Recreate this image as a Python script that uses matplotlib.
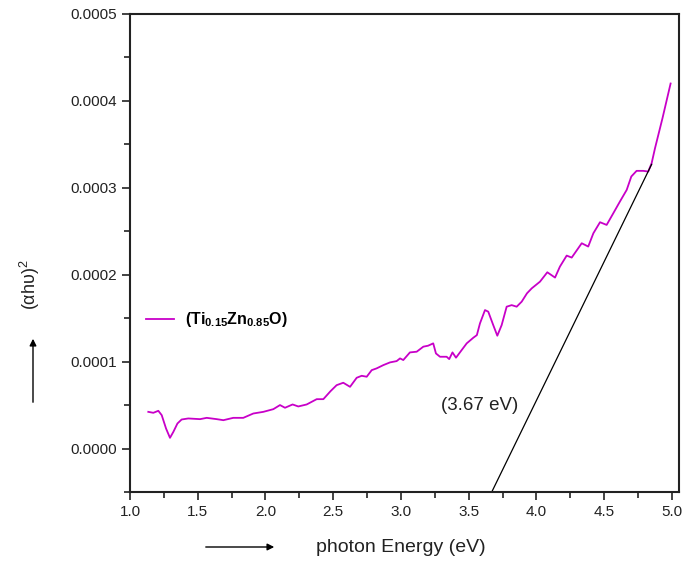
import numpy as np
import matplotlib
matplotlib.use('Agg')
import matplotlib.pyplot as plt
from matplotlib.ticker import MultipleLocator, FormatStrFormatter

plt.rcParams['font.family'] = ['Liberation Sans', 'DejaVu Sans']
plt.rcParams['mathtext.fontset'] = 'custom'
plt.rcParams['mathtext.rm'] = 'Liberation Sans'
plt.rcParams['mathtext.bf'] = 'Liberation Sans:bold'

# Tauc plot data: photon energy (eV) vs (alpha*h*nu)^2
energy = [1.135, 1.172, 1.209, 1.234, 1.266, 1.295, 1.32, 1.35, 1.381, 1.43,
          1.517, 1.566, 1.64, 1.689, 1.762, 1.836, 1.91, 1.984, 2.058, 2.107,
          2.144, 2.20, 2.242, 2.304, 2.378, 2.427, 2.48, 2.525, 2.574, 2.624,
          2.673, 2.71, 2.747, 2.784, 2.82, 2.87, 2.919, 2.968, 2.993, 3.017,
          3.066, 3.116, 3.165, 3.20, 3.238, 3.258, 3.288, 3.337, 3.356, 3.38,
          3.406, 3.448, 3.485, 3.534, 3.56, 3.583, 3.62, 3.644, 3.681, 3.711,
          3.743, 3.78, 3.817, 3.854, 3.891, 3.93, 3.965, 4.026, 4.08, 4.137,
          4.173, 4.223, 4.26, 4.334, 4.382, 4.42, 4.469, 4.518, 4.567, 4.616,
          4.666, 4.70, 4.739, 4.788, 4.825, 4.85, 4.875, 4.93, 4.99]
ahv2 = [4.22e-5, 4.11e-5, 4.34e-5, 3.84e-5, 2.3e-5, 1.23e-5, 1.92e-5, 2.88e-5, 3.34e-5, 3.46e-5,
        3.38e-5, 3.53e-5, 3.38e-5, 3.26e-5, 3.53e-5, 3.53e-5, 4.03e-5, 4.22e-5, 4.53e-5, 5.0e-5,
        4.69e-5, 5.07e-5, 4.84e-5, 5.07e-5, 5.68e-5, 5.68e-5, 6.6e-5, 7.29e-5, 7.57e-5, 7.1e-5,
        8.14e-5, 8.37e-5, 8.26e-5, 9.02e-5, 9.22e-5, 9.6e-5, 9.91e-5, 1.006e-4, 1.037e-4, 1.018e-4,
        1.106e-4, 1.114e-4, 1.172e-4, 1.183e-4, 1.21e-4, 1.094e-4, 1.056e-4, 1.056e-4, 1.029e-4, 1.106e-4,
        1.045e-4, 1.133e-4, 1.21e-4, 1.275e-4, 1.305e-4, 1.44e-4, 1.593e-4, 1.575e-4, 1.42e-4, 1.298e-4,
        1.42e-4, 1.632e-4, 1.65e-4, 1.632e-4, 1.69e-4, 1.786e-4, 1.843e-4, 1.92e-4, 2.028e-4, 1.967e-4,
        2.093e-4, 2.22e-4, 2.197e-4, 2.362e-4, 2.324e-4, 2.477e-4, 2.604e-4, 2.573e-4, 2.707e-4, 2.842e-4,
        2.976e-4, 3.13e-4, 3.195e-4, 3.195e-4, 3.187e-4, 3.283e-4, 3.456e-4, 3.8e-4, 4.2e-4]

# linear extrapolation of the absorption edge
fit_x = [3.67, 4.85]
fit_y = [-5.0e-5, 3.27e-4]

fig = plt.figure(figsize=(6.99, 5.64), dpi=100)
ax = fig.add_axes([0.186, 0.1277, 0.785, 0.8475])

ax.plot(energy, ahv2, color='#c800c8', lw=1.3,
        label=r'$\mathbf{(Ti_{0.15}Zn_{0.85}O)}$')
ax.plot(fit_x, fit_y, color='black', lw=0.9)

ax.set_xlim(1.0, 5.05)
ax.set_ylim(-5.0e-5, 5.0e-4)
ax.xaxis.set_major_locator(MultipleLocator(0.5))
ax.xaxis.set_minor_locator(MultipleLocator(0.25))
ax.yaxis.set_major_locator(MultipleLocator(1e-4))
ax.yaxis.set_minor_locator(MultipleLocator(5e-5))
ax.xaxis.set_major_formatter(FormatStrFormatter('%.1f'))
ax.yaxis.set_major_formatter(FormatStrFormatter('%.4f'))

ax.tick_params(which='both', direction='out', width=1.2, colors='#222222',
               labelsize=11, top=False, right=False)
ax.tick_params(which='major', length=6)
ax.tick_params(which='minor', length=4)
for s in ax.spines.values():
    s.set_linewidth(1.5)
    s.set_color('#222222')

ax.text(3.58, 0.5e-4, '(3.67 eV)', fontsize=13.5, color='#222222',
        ha='center', va='center')

ax.legend(loc='center left', bbox_to_anchor=(0.03, 0.36), frameon=False,
          fontsize=11.5, handlelength=1.75, handletextpad=0.65, borderpad=0,
          borderaxespad=0)

fig.text(30 / 699, 1 - 285 / 564, '(αhυ)$^2$', rotation=90, fontsize=13,
         ha='center', va='center', color='#222222')
fig.text(401 / 699, 1 - 547 / 564, 'photon Energy (eV)', fontsize=14,
         ha='center', va='center', color='#222222')

# direction arrows beside the axis labels
ax.annotate('', xy=(33, 564 - 336), xytext=(33, 564 - 405),
            xycoords='figure pixels', textcoords='figure pixels',
            arrowprops=dict(arrowstyle='-|>', color='black', lw=1.0,
                            mutation_scale=10))
ax.annotate('', xy=(277, 564 - 547), xytext=(203, 564 - 547),
            xycoords='figure pixels', textcoords='figure pixels',
            arrowprops=dict(arrowstyle='-|>', color='black', lw=1.0,
                            mutation_scale=10))

fig.savefig('out.png', dpi=100)
